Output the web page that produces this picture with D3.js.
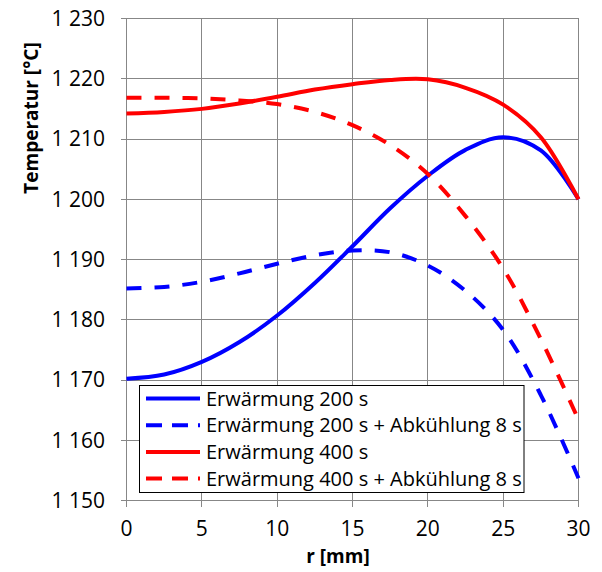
<!DOCTYPE html>
<html><head><meta charset="utf-8">
<script src="https://cdn.jsdelivr.net/npm/d3@7"></script>
<style>body{margin:0;background:#fff}svg{display:block}</style>
</head><body><svg id="c" width="602" height="572"></svg>
<script>
// ---- data ----
const radius = [0,2.5,5,7.5,10,12.5,15,17.5,20,22.5,25,27.5,30];
const heat200 = [1170.2,1170.9,1173.0,1176.3,1180.7,1186.1,1192.2,1198.5,1203.9,1208.2,1210.3,1208.1,1200.0];
const heat200cool = [1185.2,1185.45,1186.3,1187.7,1189.3,1190.7,1191.5,1191.2,1189.0,1184.8,1178.3,1167.5,1153.7];
const heat400 = [1214.25,1214.5,1215.0,1215.9,1217.0,1218.2,1219.1,1219.8,1219.9,1218.5,1215.7,1210.3,1200.0];
const heat400cool = [1216.85,1216.85,1216.75,1216.4,1215.8,1214.5,1212.3,1209.0,1204.2,1197.2,1188.5,1176.8,1163.4];
const seriesNames = ["Erwärmung 200 s","Erwärmung 200 s + Abkühlung 8 s","Erwärmung 400 s","Erwärmung 400 s + Abkühlung 8 s"];
const xTicks = [0,5,10,15,20,25,30];
const yTicks = [1150,1160,1170,1180,1190,1200,1210,1220,1230];
const yTickLabels = ["1 150","1 160","1 170","1 180","1 190","1 200","1 210","1 220","1 230"];
const xTitle = "r [mm]";
const yTitle = "Temperatur [°C]";

// ---- styles ----
const series = [
  {name: seriesNames[0], values: heat200, color: "#0000FF", dash: null},
  {name: seriesNames[1], values: heat200cool, color: "#0000FF", dash: "15,13"},
  {name: seriesNames[2], values: heat400, color: "#FF0000", dash: null},
  {name: seriesNames[3], values: heat400cool, color: "#FF0000", dash: "15,13"}
];
const font = "'Open Sans', sans-serif";
const svg = d3.select("#c");
const x = d3.scaleLinear().domain([0,30]).range([126.5,578.5]);
const y = d3.scaleLinear().domain([1150,1230]).range([500.5,18.5]);
const grid = "#878787";

// gridlines
const g = svg.append("g");
g.selectAll("line.v").data(xTicks).join("line")
  .attr("x1", d=>x(d)).attr("x2", d=>x(d)).attr("y1", y(1230)).attr("y2", y(1150)+6)
  .attr("stroke", grid).attr("stroke-width",1).attr("shape-rendering","crispEdges");
g.selectAll("line.h").data(yTicks).join("line")
  .attr("x1", x(0)-6).attr("x2", x(30)).attr("y1", d=>y(d)).attr("y2", d=>y(d))
  .attr("stroke", grid).attr("stroke-width",1).attr("shape-rendering","crispEdges");

// tick labels
svg.append("g").selectAll("text").data(yTicks).join("text")
  .attr("x", 105).attr("y", d=>y(d)).attr("dy","0.35em").attr("text-anchor","end")
  .attr("font-family", font).attr("font-size", 21).attr("fill","#000")
  .text((d,i)=>yTickLabels[i]);
svg.append("g").selectAll("text").data(xTicks).join("text")
  .attr("x", d=>x(d)).attr("y", 529).attr("dy","0.35em").attr("text-anchor","middle")
  .attr("font-family", font).attr("font-size", 21).attr("fill","#000")
  .text(d=>d);

// axis titles
svg.append("text").attr("x", 338).attr("y", 556).attr("dy","0.35em").attr("text-anchor","middle")
  .attr("font-family", font).attr("font-size", 19).attr("font-weight","bold").text(xTitle);
svg.append("text").attr("transform","translate(31,118) rotate(-90)").attr("dy","0.35em")
  .attr("text-anchor","middle").attr("font-family", font).attr("font-size", 19)
  .attr("font-weight","bold").text(yTitle);

// lines
const line = d3.line().x((d,i)=>x(radius[i])).y(d=>y(d)).curve(d3.curveCatmullRom.alpha(0.5));
svg.append("g").selectAll("path").data(series).join("path")
  .attr("d", d=>line(d.values)).attr("fill","none").attr("stroke", d=>d.color)
  .attr("stroke-width",4).attr("stroke-dasharray", d=>d.dash);

// legend
const lg = svg.append("g");
lg.append("rect").attr("x",139.5).attr("y",385.5).attr("width",384.5).attr("height",107)
  .attr("fill","#fff").attr("stroke","#000").attr("stroke-width",1);
const items = lg.selectAll("g").data(series).join("g")
  .attr("transform",(d,i)=>`translate(0,${398.5 + i*26.7})`);
items.append("line").attr("x1",146).attr("x2",200).attr("y1",0).attr("y2",0)
  .attr("stroke", d=>d.color).attr("stroke-width",4).attr("stroke-dasharray", d=>d.dash ? "16,10" : null);
items.append("text").attr("x",206).attr("y",0).attr("dy","0.35em")
  .attr("font-family", font).attr("font-size", 20).text(d=>d.name);
</script></body></html>
